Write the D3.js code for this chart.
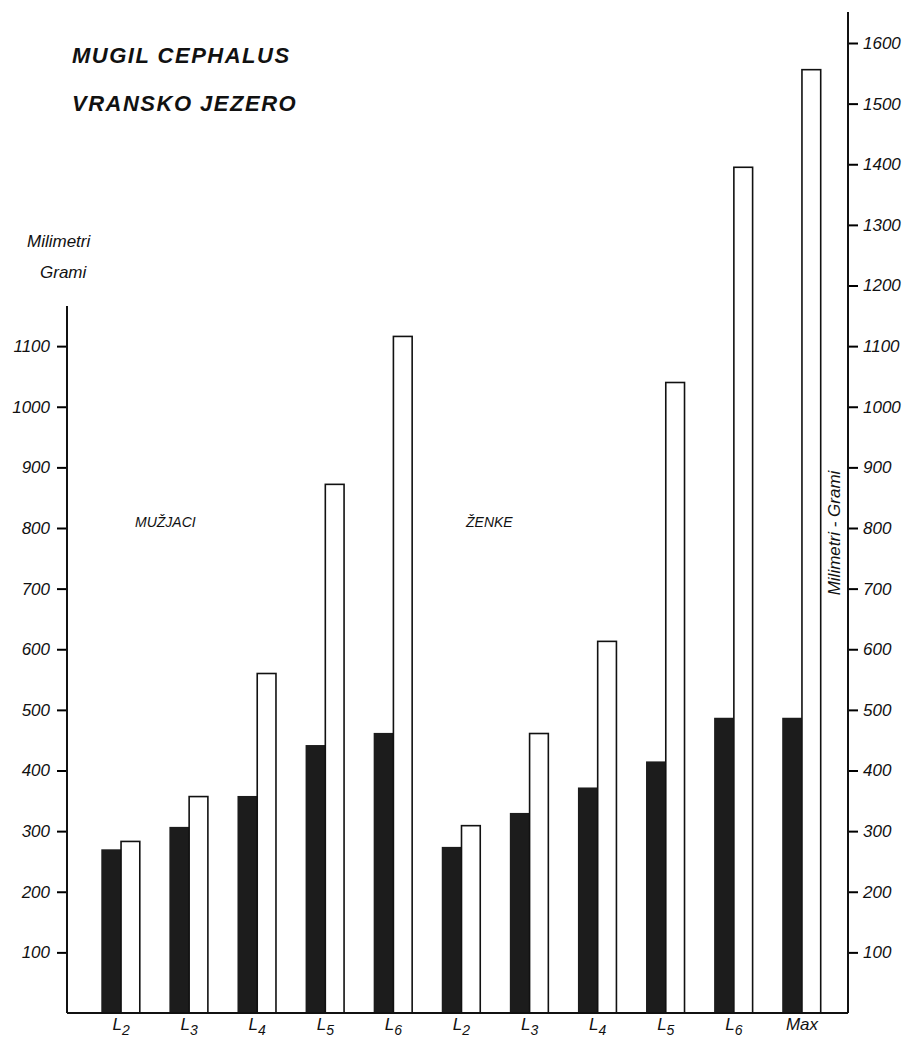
<!doctype html>
<html>
  <head>
    <meta charset="utf-8">
    <script src="https://d3js.org/d3.v7.min.js"></script>
    <style>
      body { margin: 0; background: #fff; }
      text { font-family: "Liberation Sans", "DejaVu Sans", sans-serif; font-style: italic; fill: #111; }
    </style>
  </head>

  <body>
    <svg class="chart" width=911 height=1039></svg>

    <script>
        // values (millimetri / grami)
        var groupIds = ["m2","m3","m4","m5","m6","f2","f3","f4","f5","f6","max"];
        var groupNames = ["L","L","L","L","L","L","L","L","L","L","Max"];
        var groupSubs = ["2","3","4","5","6","2","3","4","5","6",""];
        var blackVals = [270, 307, 358, 442, 462, 274, 330, 372, 415, 487, 487];
        var whiteVals = [283, 357, 560, 872, 1116, 309, 461, 613, 1040, 1395, 1556];
        var leftTicks = [100,200,300,400,500,600,700,800,900,1000,1100];
        var rightTicks = [100,200,300,400,500,600,700,800,900,1000,1100,1200,1300,1400,1500,1600];

        var svg = d3.select("svg");
        var baseY = 1013, leftX = 67, rightX = 848;

        var yScale = d3.scaleLinear().domain([0,1600]).range([baseY, 43]);
        var xScale = d3.scaleBand().domain(groupIds).range([87, 836]).paddingInner(0.42).paddingOuter(0.21);
        var sub = d3.scaleBand().domain(["b","w"]).range([0, xScale.bandwidth()]);

        // bars
        var g = svg.append("g");
        g.selectAll(".black")
          .data(groupIds)
          .enter().append("rect")
            .attr("x", function(d){return xScale(d) + sub("b");})
            .attr("y", function(d,i){return yScale(blackVals[i]);})
            .attr("width", sub.bandwidth())
            .attr("height", function(d,i){return baseY - yScale(blackVals[i]);})
            .attr("fill", "#1c1c1c");
        g.selectAll(".white")
          .data(groupIds)
          .enter().append("rect")
            .attr("x", function(d){return xScale(d) + sub("w");})
            .attr("y", function(d,i){return yScale(whiteVals[i]);})
            .attr("width", sub.bandwidth() - 1)
            .attr("height", function(d,i){return baseY - yScale(whiteVals[i]);})
            .attr("fill", "#fff")
            .attr("stroke", "#111")
            .attr("stroke-width", 1.6);

        // left axis
        var la = svg.append("g").attr("transform", "translate(" + leftX + ",0)")
          .call(d3.axisLeft(yScale).tickValues(leftTicks).tickFormat(d3.format("d")).tickSize(10).tickPadding(7));
        la.select(".domain").remove();
        la.append("line").attr("x1",0).attr("x2",0).attr("y1",306).attr("y2",baseY)
          .attr("stroke","#111").attr("stroke-width",2);
        la.selectAll("line").attr("stroke-width",2);
        la.selectAll("text").style("font-size","17px").attr("fill","#111");

        // right axis
        var ra = svg.append("g").attr("transform", "translate(" + rightX + ",0)")
          .call(d3.axisRight(yScale).tickValues(rightTicks).tickFormat(d3.format("d")).tickSize(10).tickPadding(5));
        ra.select(".domain").remove();
        ra.append("line").attr("x1",0).attr("x2",0).attr("y1",12).attr("y2",baseY)
          .attr("stroke","#111").attr("stroke-width",2);
        ra.selectAll("line").attr("stroke-width",2);
        ra.selectAll("text").style("font-size","17px").attr("fill","#111");

        // baseline
        svg.append("line").attr("x1",leftX).attr("x2",rightX).attr("y1",baseY).attr("y2",baseY)
          .attr("stroke","#111").attr("stroke-width",2);

        // category labels
        var lab = svg.append("g").selectAll("text")
          .data(groupIds)
          .enter().append("text")
            .attr("x", function(d){return xScale(d) + xScale.bandwidth()/2;})
            .attr("y", 1030)
            .attr("text-anchor", "middle")
            .style("font-size", "17px");
        lab.append("tspan").text(function(d,i){return groupNames[i];});
        lab.append("tspan").attr("dy", 5).style("font-size","14px").text(function(d,i){return groupSubs[i];});

        // titles
        svg.append("text").attr("x",72).attr("y",63).text("MUGIL CEPHALUS")
          .style("font-size","22px").style("font-weight","bold").style("letter-spacing","1.5px");
        svg.append("text").attr("x",72).attr("y",111).text("VRANSKO JEZERO")
          .style("font-size","22px").style("font-weight","bold").style("letter-spacing","1.5px");
        svg.append("text").attr("x",27).attr("y",247).text("Milimetri").style("font-size","17px");
        svg.append("text").attr("x",40).attr("y",278).text("Grami").style("font-size","17px");
        svg.append("text").attr("x",135).attr("y",527).text("MUŽJACI").style("font-size","14px");
        svg.append("text").attr("x",466).attr("y",527).text("ŽENKE").style("font-size","14px");
        svg.append("text").attr("transform","translate(840,533) rotate(-90)")
          .attr("text-anchor","middle").text("Milimetri  -  Grami").style("font-size","17px");
    </script>
  </body>
</html>
